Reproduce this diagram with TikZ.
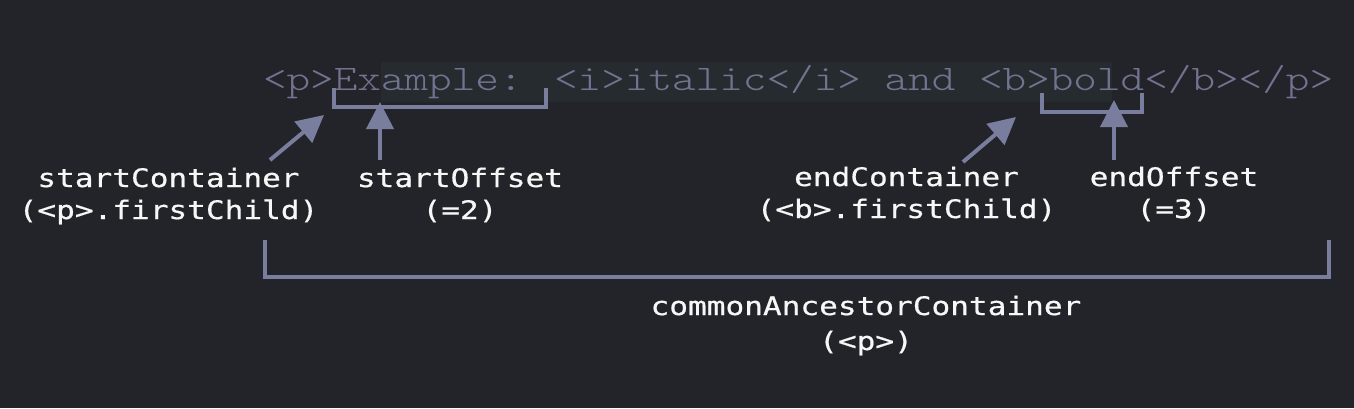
\documentclass[tikz,border=0pt]{standalone}
\usepackage{fontspec}
\usetikzlibrary{arrows.meta}
\newfontfamily\codefont[FakeStretch=1.249]{lmmonolt10-regular.otf}
\newfontfamily\lblfont[FakeStretch=1.22,FakeBold=0.6]{DejaVu Sans Mono}
\definecolor{bgc}{HTML}{232429}
\definecolor{hlc}{HTML}{252B2E}
\definecolor{codec}{HTML}{717490}
\definecolor{linec}{HTML}{7A7E9E}
\definecolor{lblc}{HTML}{F7F7F7}
\tikzset{
  codetext/.style={inner sep=0pt, anchor=base west, text=codec, font=\codefont\fontsize{36}{40}\selectfont},
  lbl/.style={inner sep=0pt, anchor=base, align=center, text=lblc, font=\lblfont\fontsize{25.5}{32}\selectfont},
  brk/.style={draw=linec, line width=4pt, line cap=butt, line join=miter},
  arr/.style={draw=linec, line width=4pt, -{Triangle[length=27pt,width=27pt]}},
}
\begin{document}
\begin{tikzpicture}[x=1pt,y=-1pt]
\fill[bgc] (0,0) rectangle (1354,408);
\useasboundingbox (0,0) rectangle (1354,408);
% highlighted range
\fill[hlc] (380.8,62) rectangle (1112.4,102);
% source text
\node[codetext] (code) at (262.8,90) {<p>Example: <i>italic</i> and <b>bold</b></p>};
% labels (anchor = baseline of the last line)
\node[lbl] (sc) at (168.5,219) {startContainer\\(<p>.firstChild)};
\node[lbl] (so) at (460,219) {startOffset\\(=2)};
\node[lbl] (ec) at (906.5,218) {endContainer\\(<b>.firstChild)};
\node[lbl] (eo) at (1174,218) {endOffset\\(=3)};
\node[lbl, font=\lblfont\fontsize{25.5}{35}\selectfont] (ca) at (866,350) {commonAncestorContainer\\(<p>)};
% coordinates
\coordinate (scTail) at (270,160);
\coordinate (scTip) at (324,115);
\coordinate (soTail) at (380,160);
\coordinate (soTip) at (380,102);
\coordinate (ecTail) at (963,162);
\coordinate (ecTip) at (1016,117);
\coordinate (eoTail) at (1114,160);
\coordinate (eoTip) at (1114,100);
% brackets
\draw[brk] (333.6,88) -- (333.6,107) -- (546,107) -- (546,88);
\draw[brk] (1042,93) -- (1042,112) -- (1142,112) -- (1142,93);
\draw[brk] (265,240) -- (265,277) -- (1329,277) -- (1329,240);
% arrows
\draw[arr] (scTail) -- (scTip);
\draw[arr] (soTail) -- (soTip);
\draw[arr] (ecTail) -- (ecTip);
\draw[arr] (eoTail) -- (eoTip);
\end{tikzpicture}
\end{document}
